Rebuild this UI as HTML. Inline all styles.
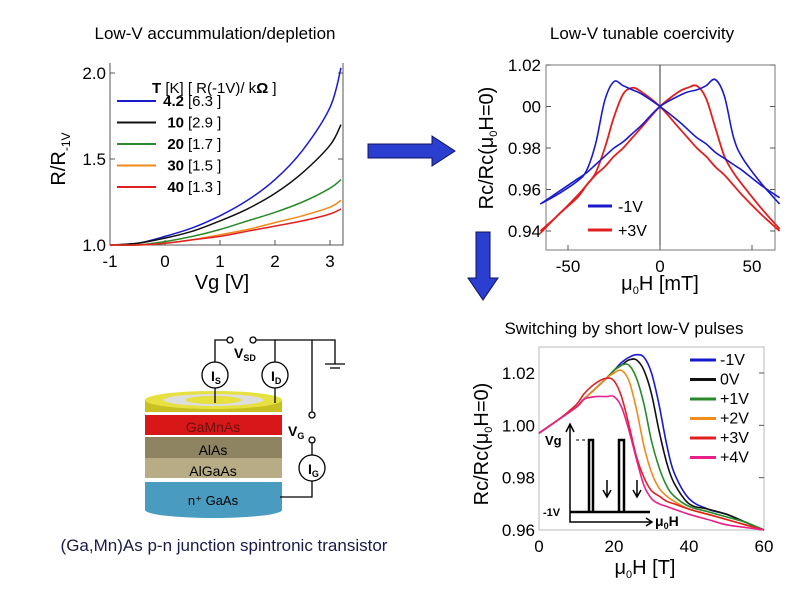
<!DOCTYPE html>
<html><head><meta charset="utf-8"><style>
body{margin:0;background:#fff}
svg{display:block;font-family:"Liberation Sans",sans-serif}
</style></head><body>
<svg id="s" width="794" height="595" viewBox="0 0 794 595" xmlns="http://www.w3.org/2000/svg">
<text x="215" y="39" font-size="17" text-anchor="middle">Low-V accummulation/depletion</text>
<text x="642" y="39" font-size="17" text-anchor="middle">Low-V tunable coercivity</text>
<text x="624" y="334" font-size="17" text-anchor="middle">Switching by short low-V pulses</text>
<text x="224" y="551" font-size="17" text-anchor="middle" fill="#1a1a4a">(Ga,Mn)As p-n junction spintronic transistor</text>

<g><polygon points="368,144 432,144 432,136 455,151 432,166 432,158 368,158" fill="#2a3fd0" stroke="#101060" stroke-width="1"/></g>
<g><polygon points="476,232 490,232 490,278 498,278 483,300 468,278 476,278" fill="#2a3fd0" stroke="#101060" stroke-width="1"/></g>

<g id="c1"></g>
<g id="c2"></g>
<g id="c3"></g>

<g stroke-width="1.3">
 <rect x="145" y="482" width="137" height="28" fill="#4a9bc0"/>
 <ellipse cx="213.5" cy="510" rx="68.5" ry="8" fill="#4a9bc0"/>
 <rect x="145" y="478" width="137" height="4" fill="#fff"/>
 <rect x="145" y="458" width="137" height="20" fill="#b8ac86"/>
 <rect x="145" y="437" width="137" height="21" fill="#8e8462"/>
 <rect x="145" y="435" width="137" height="2" fill="#fff"/>
 <rect x="145" y="415" width="137" height="20" fill="#d81818"/>
 <rect x="145" y="412" width="137" height="3" fill="#fff"/>
 <rect x="145" y="400" width="137" height="12" fill="#c8c020"/>
 <ellipse cx="213.5" cy="400" rx="68.5" ry="9" fill="#e6e040"/>
 <ellipse cx="213.5" cy="400" rx="50" ry="6" fill="#ddd"/>
 <ellipse cx="213.5" cy="400" rx="28" ry="4" fill="#e6e040"/>
 <text x="213" y="432" font-size="14" text-anchor="middle" fill="#6a1010">GaMnAs</text>
 <text x="213" y="455" font-size="14" text-anchor="middle">AlAs</text>
 <text x="213" y="476" font-size="14" text-anchor="middle">AlGaAs</text>
 <text x="213" y="505" font-size="13" text-anchor="middle">n⁺ GaAs</text>
 <g fill="none" stroke="#000">
  <polyline points="215,403 215,340 227,340"/>
  <polyline points="256,340 335,340 335,364"/>
  <line x1="325" y1="364" x2="345" y2="364"/><line x1="330" y1="368" x2="340" y2="368"/>
  <line x1="275" y1="340" x2="275" y2="403"/>
  <polyline points="312,340 312,412"/>
  <polyline points="312,443 312,497 280,497"/>
  <circle cx="230" cy="340" r="3" fill="#fff"/><circle cx="253" cy="340" r="3" fill="#fff"/>
  <circle cx="312" cy="415" r="3" fill="#fff"/><circle cx="312" cy="440" r="3" fill="#fff"/>
  <circle cx="215" cy="375" r="13" fill="#fff"/><circle cx="275" cy="375" r="13" fill="#fff"/>
  <circle cx="312" cy="468" r="13" fill="#fff"/>
 </g>
 <text x="211" y="381" font-size="14" font-weight="bold">I<tspan font-size="9" dy="3">S</tspan></text>
 <text x="271" y="381" font-size="14" font-weight="bold">I<tspan font-size="9" dy="3">D</tspan></text>
 <text x="308" y="474" font-size="14" font-weight="bold">I<tspan font-size="9" dy="3">G</tspan></text>
 <text x="234" y="358" font-size="14" font-weight="bold">V<tspan font-size="9" dy="3">SD</tspan></text>
 <text x="288" y="436" font-size="14" font-weight="bold">V<tspan font-size="9" dy="3">G</tspan></text>
</g>
</svg>
<script>
const c1X=[-1,-0.5,0,0.5,1,1.5,2,2.5,3,3.2];
const c1Blue=[1.0,1.01,1.05,1.1,1.17,1.26,1.38,1.55,1.8,2.03];
const c1Black=[1.0,1.01,1.04,1.08,1.14,1.21,1.3,1.42,1.58,1.70];
const c1Green=[1.0,1.0,1.02,1.05,1.09,1.14,1.19,1.25,1.33,1.38];
const c1Orange=[1.0,1.0,1.01,1.03,1.06,1.09,1.13,1.17,1.22,1.26];
const c1Red=[1.0,1.0,1.01,1.03,1.05,1.08,1.11,1.14,1.18,1.21];
const c1Labels=["4.2","10","20","30","40"];
const c1R=["[6.3 ]","[2.9 ]","[1.7 ]","[1.5 ]","[1.3 ]"];
const c1XTicks=[-1,0,1,2,3];
const c1YTicks=[1.0,1.5,2.0];
const c2X=[-65,-55,-45,-40,-35,-30,-25,-20,-15,-10,0,10,15,20,25,30,35,40,45,55,65];
const c2BlueA=[0.953,0.958,0.964,0.969,0.982,1.003,1.012,1.010,1.008,1.006,1.0,0.993,0.989,0.985,0.982,0.978,0.975,0.972,0.969,0.962,0.956];
const c2BlueB=[0.953,0.959,0.965,0.968,0.972,0.976,0.980,0.983,0.987,0.991,1.0,1.005,1.007,1.008,1.010,1.013,1.005,0.985,0.975,0.963,0.953];
const c2RedA=[0.939,0.948,0.956,0.962,0.968,0.980,0.995,1.006,1.009,1.007,1.0,0.990,0.985,0.980,0.976,0.971,0.967,0.962,0.957,0.948,0.940];
const c2RedB=[0.940,0.948,0.957,0.962,0.967,0.971,0.976,0.980,0.985,0.990,1.0,1.007,1.009,1.010,1.004,0.990,0.976,0.968,0.962,0.951,0.941];
const c2XTicks=[-50,0,50];
const c2YTicks=[0.94,0.96,0.98,1.00,1.02];
const c3X=[0,5,10,12,15,18,20,22,24,26,28,30,32,34,36,40,45,50,55,60];
const c3M1=[0.997,1.002,1.007,1.010,1.014,1.018,1.021,1.024,1.026,1.027,1.026,1.020,1.008,0.993,0.982,0.972,0.968,0.966,0.963,0.960];
const c3V0=[0.997,1.002,1.007,1.010,1.014,1.018,1.021,1.023,1.025,1.025,1.021,1.012,0.998,0.986,0.978,0.970,0.968,0.966,0.963,0.960];
const c3P1=[0.997,1.002,1.007,1.010,1.014,1.018,1.021,1.023,1.023,1.018,1.008,0.994,0.984,0.977,0.973,0.969,0.967,0.965,0.963,0.960];
const c3P2=[0.997,1.002,1.007,1.010,1.014,1.018,1.020,1.021,1.017,1.006,0.992,0.982,0.976,0.973,0.971,0.968,0.966,0.964,0.962,0.960];
const c3P3=[0.997,1.002,1.008,1.012,1.016,1.018,1.017,1.011,1.000,0.988,0.980,0.975,0.973,0.971,0.970,0.968,0.966,0.964,0.962,0.960];
const c3P4=[0.997,1.002,1.007,1.010,1.011,1.011,1.011,1.007,0.998,0.987,0.977,0.972,0.970,0.969,0.968,0.966,0.964,0.962,0.961,0.960];
const c3Labels=["-1V"," 0V","+1V","+2V","+3V","+4V"];
const c3XTicks=[0,20,40,60];
const c3YTicks=[0.96,0.98,1.00,1.02];

const NS="http://www.w3.org/2000/svg";
function mk(p,t,a){const e=document.createElementNS(NS,t);for(const k in a)e.setAttribute(k,a[k]);p.appendChild(e);return e;}
function lin(d0,d1,r0,r1){return v=>r0+(v-d0)*(r1-r0)/(d1-d0);}
function line(g,xs,ys,sx,sy,col,w,name){
 const P=xs.map((x,i)=>[sx(x),sy(ys[i])]);
 let d='M'+P[0][0].toFixed(1)+','+P[0][1].toFixed(1);
 for(let i=0;i<P.length-1;i++){const p0=P[Math.max(0,i-1)],p1=P[i],p2=P[i+1],p3=P[Math.min(P.length-1,i+2)];
  const t=1/6;
  d+=' C'+(p1[0]+(p2[0]-p0[0])*t).toFixed(1)+','+(p1[1]+(p2[1]-p0[1])*t).toFixed(1)+' '+(p2[0]-(p3[0]-p1[0])*t).toFixed(1)+','+(p2[1]-(p3[1]-p1[1])*t).toFixed(1)+' '+p2[0].toFixed(1)+','+p2[1].toFixed(1);}
 const p=mk(g,'path',{d:d,fill:'none',stroke:col,'stroke-width':w,'stroke-linejoin':'round'});
 
 
 return p;
}
function txt(g,x,y,s,sz,anc,extra){const t=mk(g,'text',Object.assign({x:x,y:y,'font-size':sz,'text-anchor':anc||'start'},extra||{}));t.textContent=s;return t;}

(function(){
 const g=document.getElementById('c1');
 const sx=lin(-1,3,110,330), sy=lin(1.0,2.0,245,73);
 mk(g,'polyline',{points:'110,63 110,245 343,245 343,63',fill:'none',stroke:'#555','stroke-width':1});
 c1XTicks.forEach(v=>{mk(g,'line',{x1:sx(v),x2:sx(v),y1:245,y2:240,stroke:'#555'});const t=txt(g,sx(v),267,v,17,'middle');});
 c1YTicks.forEach(v=>{mk(g,'line',{x1:110,x2:115,y1:sy(v),y2:sy(v),stroke:'#555'});mk(g,'line',{x1:343,x2:338,y1:sy(v),y2:sy(v),stroke:'#555'});const t=txt(g,106,sy(v)+6,v.toFixed(1),17,'end');});
 const xt=txt(g,222,289,'Vg [V]',20,'middle');
 const yt=mk(g,'text',{x:0,y:0,'font-size':20,'text-anchor':'middle',transform:'translate(65,159) rotate(-90)'});
 yt.innerHTML='R/R<tspan font-size="12" dy="5">-1V</tspan>';
 
 const cols=['#1a1acc','#111','#2a8a2a','#f08a1a','#e02020'];
 [c1Blue,c1Black,c1Green,c1Orange,c1Red].forEach((s,i)=>line(g,c1X,s,sx,sy,cols[i],1.5,'series-'+c1Labels[i]+'K'));
 const h=txt(g,152,93,'',15,'start');h.innerHTML='<tspan font-weight="bold">T</tspan> [K]  [ R(-1V)/ k<tspan font-weight="bold">Ω</tspan> ]';
 
 c1Labels.forEach((l,i)=>{const y=106+i*21.5;
  const e=mk(g,'g',{});
  mk(e,'line',{x1:117,x2:156,y1:y-5,y2:y-5,stroke:cols[i],'stroke-width':2});
  txt(e,184,y,l,15,'end',{'font-weight':'bold'});txt(e,188,y,c1R[i],15);});
})();

(function(){
 const g=document.getElementById('c2');
 const sx=lin(0,50,660,752), sy=lin(0.94,1.02,231,65);
 mk(g,'rect',{x:546,y:65,width:229,height:185,fill:'none',stroke:'#777','stroke-width':1});
 mk(g,'line',{x1:660,x2:660,y1:65,y2:250,stroke:'#333','stroke-width':1});
 c2XTicks.forEach(v=>{mk(g,'line',{x1:sx(v),x2:sx(v),y1:250,y2:245,stroke:'#555'});const t=txt(g,sx(v),272,v,17,'middle');});
 c2YTicks.forEach(v=>{mk(g,'line',{x1:546,x2:551,y1:sy(v),y2:sy(v),stroke:'#555'});mk(g,'line',{x1:775,x2:770,y1:sy(v),y2:sy(v),stroke:'#555'});
  const s=v===1.00?'00':v.toFixed(2);const t=txt(g,541,sy(v)+6,s,17,'end');});
 const xt=txt(g,660,290,'',20,'middle');xt.innerHTML='μ<tspan font-size="11" dy="4">0</tspan><tspan dy="-4">H [mT]</tspan>';
 
 const yt=mk(g,'text',{x:0,y:0,'font-size':20,'text-anchor':'middle',transform:'translate(493,148) rotate(-90)'});
 yt.innerHTML='Rc/Rc(μ<tspan font-size="11" dy="4">0</tspan><tspan dy="-4">H=0)</tspan>';
 
 line(g,c2X,c2RedA,sx,sy,'#e02020',1.8,'series-plus3v-up');line(g,c2X,c2RedB,sx,sy,'#e02020',1.8,'series-plus3v-down');
 line(g,c2X,c2BlueA,sx,sy,'#1a1acc',1.6,'series-minus1v-up');line(g,c2X,c2BlueB,sx,sy,'#1a1acc',1.6,'series-minus1v-down');
 [['-1V','#1a1acc',212],['+3V','#e02020',236]].forEach(a=>{const e=mk(g,'g',{});
  mk(e,'line',{x1:588,x2:612,y1:a[2]-6,y2:a[2]-6,stroke:a[1],'stroke-width':3});txt(e,618,a[2],' '+a[0],16);});
})();

(function(){
 const g=document.getElementById('c3');
 const sx=lin(0,60,539,764), sy=lin(0.96,1.02,530,373);
 mk(g,'rect',{x:539,y:347,width:225,height:183,fill:'none',stroke:'#bbb','stroke-width':1});
 c3XTicks.forEach(v=>{const t=txt(g,sx(v),552,v,17,'middle');});
 c3YTicks.forEach(v=>{mk(g,'line',{x1:764,x2:759,y1:sy(v),y2:sy(v),stroke:'#555'});const t=txt(g,535,sy(v)+6,v.toFixed(2),17,'end');});
 const xt=txt(g,645,574,'',20,'middle');xt.innerHTML='μ<tspan font-size="11" dy="4">0</tspan><tspan dy="-4">H  [T]</tspan>';
 
 const yt=mk(g,'text',{x:0,y:0,'font-size':20,'text-anchor':'middle',transform:'translate(488,444) rotate(-90)'});
 yt.innerHTML='Rc/Rc(μ<tspan font-size="11" dy="4">0</tspan><tspan dy="-4">H=0)</tspan>';
 
 const cols=['#1a1acc','#111','#2a8a2a','#f08a1a','#e02020','#e8208a'];
 [c3M1,c3V0,c3P1,c3P2,c3P3,c3P4].forEach((s,i)=>line(g,c3X,s,sx,sy,cols[i],1.6,'series-'+c3Labels[i].trim()));
 c3Labels.forEach((l,i)=>{const y=365+i*19.5;const e=mk(g,'g',{});
  mk(e,'line',{x1:690,x2:716,y1:y-5,y2:y-5,stroke:cols[i],'stroke-width':3});txt(e,720,y,l,16);});
 const ins=mk(g,'g',{fill:'none',stroke:'#000','stroke-width':2.5});
 mk(ins,'polyline',{points:'570,424 570,522 652,522','stroke-width':1.5});
 mk(ins,'polyline',{points:'566,432 570,424 574,432','stroke-width':1.5});
 mk(ins,'polyline',{points:'646,518 652,522 646,526','stroke-width':1.5});
 mk(ins,'polyline',{points:'570,512 650,512'});
 mk(ins,'polyline',{points:'589,512 589,440 593,440 593,512'});
 mk(ins,'polyline',{points:'619,512 619,440 624,440 624,512'});
 mk(ins,'line',{x1:576,x2:589,y1:440,y2:440,'stroke-width':1,'stroke-dasharray':'3,3'});
 mk(ins,'path',{d:'M607,480 L607,496 M603,490 L607,497 L611,490 M637,480 L637,496 M633,490 L637,497 L641,490','stroke-width':1.5});
 txt(g,545,445,'Vg',13,'start',{'font-weight':'bold'});txt(g,543,516,'-1V',11,'start',{'font-weight':'bold'});
 const m=txt(g,655,526,'',14,'start',{'font-weight':'bold'});m.innerHTML='μ<tspan font-size="9" dy="3">0</tspan><tspan dy="-3">H</tspan>';
})();
</script>
</body></html>
